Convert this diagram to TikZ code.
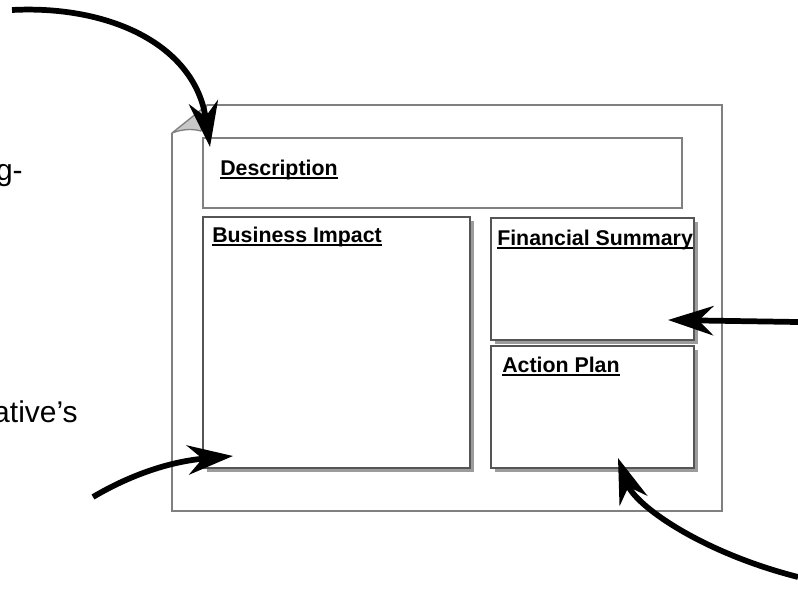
\documentclass[tikz,border=0pt]{standalone}
\usepackage{fontspec}
\setmainfont{Liberation Sans}
\usetikzlibrary{arrows.meta}
\definecolor{framegray}{HTML}{808080}
\definecolor{boxline}{HTML}{555555}
\definecolor{shade}{HTML}{9C9C9C}
\definecolor{curl}{HTML}{C8C8C8}

\begin{document}
\begin{tikzpicture}[x=0.75pt,y=-0.75pt,
  frame/.style={draw=framegray,line width=1pt},
  panel/.style={draw=boxline,fill=white,line width=1pt},
  plain/.style={draw=framegray,fill=white,line width=1pt},
  shadowbox/.style={fill=shade},
  heading/.style={font=\fontsize{16}{19}\selectfont\bfseries,inner sep=0pt,anchor=base west},
  ul/.style={line width=1.8pt,line cap=butt},
  aside/.style={font=\fontsize{22.5}{26}\selectfont,inner sep=0pt,anchor=base east},
  callout/.style={line width=4.3pt,-{Stealth[length=34pt,width=22pt,inset=11pt]}}
]
\useasboundingbox (0,0) rectangle (798,588);

% page outline with a curled top-left corner
\draw[frame] (207,105) -- (722,105) -- (722,511) -- (172,511) -- (172,133);
\draw[frame,fill=curl,line join=round] (172,133) -- (207,105)
  .. controls (203,115) and (202,124) .. (201,131)
  .. controls (190,128) and (180,130) .. cycle;

% description strip
\draw[plain] (203,138) rectangle (682,208);

% panels with drop shadows
\fill[shadowbox] (207,221) rectangle (474,472);
\draw[panel] (203,217) rectangle (470,468);
\fill[shadowbox] (495,222) rectangle (698,344);
\draw[panel] (491,218) rectangle (694,340);
\fill[shadowbox] (495,350) rectangle (698,472);
\draw[panel] (491,346) rectangle (694,468);

% headings
\node[heading] (hdesc) at (220,175) {Description};
\node[heading] (himpact) at (212,242) {Business Impact};
\node[heading] (hfin) at (497,245) {Financial Summary};
\node[heading] (hplan) at (502,372) {Action Plan};
\foreach \h in {hdesc,himpact,hfin,hplan}
  \draw[ul] ([yshift=-2.2pt]\h.base west) -- ([yshift=-2.2pt]\h.base east);

% side text
\node[aside] (sidea) at (23,180) {g-};
\node[aside] (sideb) at (78,422) {ative’s};

% callout arrows
\coordinate (fromdesc) at (12,10);
\coordinate (todesc) at (210,147);
\coordinate (fromfin) at (798,322);
\coordinate (tofin) at (668,320);
\coordinate (fromimpact) at (93,497);
\coordinate (toimpact) at (233,456);
\coordinate (fromplan) at (798,577);
\coordinate (toplan) at (618,458);

\draw[callout] (fromdesc) .. controls (110,5) and (195,45) .. (todesc);
\draw[callout] (fromfin) -- (tofin);
\draw[callout] (fromimpact) .. controls (125,478) and (165,462) .. (toimpact);
\draw[callout] (fromplan) .. controls (700,552) and (635,505) .. (toplan);
\end{tikzpicture}
\end{document}
